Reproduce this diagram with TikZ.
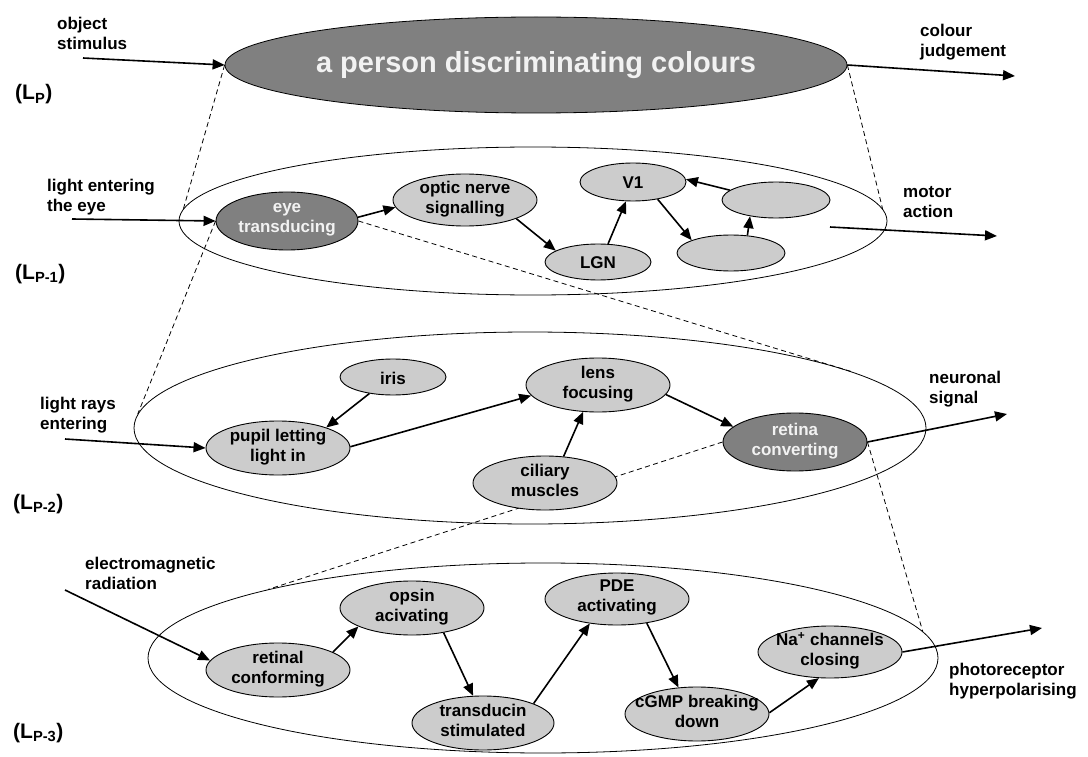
\documentclass[tikz,border=0pt]{standalone}
\usepackage{fontspec}
\setmainfont{Liberation Sans}
\usetikzlibrary{shapes.geometric,arrows.meta,backgrounds}
\definecolor{darkfill}{RGB}{128,128,128}
\definecolor{lightfill}{RGB}{204,204,204}
\definecolor{darktext}{RGB}{242,242,242}
\begin{document}
\begin{tikzpicture}[x=1pt,y=-1pt,
  every node/.style={font=\fontsize{17}{20}\selectfont\bfseries},
  proc/.style={ellipse,draw=black,line width=0.9pt,fill=lightfill,align=center,inner xsep=-16pt,inner ysep=-2pt,
    execute at begin node=\rule{0pt}{20pt}, execute at end node=\strut},
  dproc/.style={proc,fill=darkfill,text=darktext},
  level/.style={ellipse,draw=black,line width=0.8pt,inner xsep=-10pt,inner ysep=0pt},
  flow/.style={-{Triangle[length=12pt,width=10pt]},line width=1.6pt},
  zoomline/.style={line width=0.8pt,dash pattern=on 5pt off 3.5pt},
  lbl/.style={anchor=north west,align=left,inner sep=0pt},
  levlbl/.style={anchor=base west,inner sep=0pt,font=\fontsize{21}{24}\selectfont\bfseries}]
\useasboundingbox (0,0) rectangle (1088,757);

% level ellipses
\node[level,fill=darkfill,text=darktext,minimum width=622pt,minimum height=96pt,font=\fontsize{29}{34}\selectfont\bfseries] (lev1) at (536,65) {a person discriminating colours};
\node[level,minimum width=708pt,minimum height=148pt] (lev2) at (533,221) {};
\node[level,minimum width=792pt,minimum height=192pt] (lev3) at (530,428) {};
\node[level,minimum width=790pt,minimum height=190pt] (lev4) at (543,658) {};

% level P-1 nodes
\node[dproc,minimum width=142pt,minimum height=58pt] (eye) at (287,221) {eye\\transducing};
\node[proc,minimum width=144pt,minimum height=52pt] (optic) at (465,200) {optic nerve\\signalling};
\node[proc,minimum width=106pt,minimum height=36pt] (lgn) at (598,262) {LGN};
\node[proc,minimum width=106pt,minimum height=38pt] (v1) at (633,182) {V1};
\node[proc,minimum width=108pt,minimum height=36pt] (ub) at (776,200) {};
\node[proc,minimum width=108pt,minimum height=36pt] (lb) at (731,253) {};

% level P-2 nodes
\node[proc,minimum width=106pt,minimum height=36pt] (iris) at (393,377) {iris};
\node[proc,minimum width=144pt,minimum height=54pt] (pupil) at (278,448) {pupil letting\\light in};
\node[proc,minimum width=144pt,minimum height=54pt] (lens) at (598,385) {lens\\focusing};
\node[proc,minimum width=144pt,minimum height=54pt] (cil) at (545,483) {ciliary\\muscles};
\node[dproc,minimum width=144pt,minimum height=58pt] (ret) at (795,442) {retina\\converting};

% level P-3 nodes
\node[proc,minimum width=144pt,minimum height=54pt] (rc) at (278,670) {retinal\\conforming};
\node[proc,minimum width=144pt,minimum height=54pt] (ops) at (412,608) {opsin\\acivating};
\node[proc,minimum width=142pt,minimum height=54pt] (tra) at (483,723) {transducin\\stimulated};
\node[proc,minimum width=144pt,minimum height=52pt] (pde) at (617,599) {PDE\\activating};
\node[proc,minimum width=144pt,minimum height=54pt] (cg) at (697,714) {cGMP breaking\\down};
\node[proc,minimum width=144pt,minimum height=52pt] (na) at (830,652) {Na\textsuperscript{+} channels\\closing};

% free ends
\coordinate (inP) at (83,58);
\coordinate (outP) at (1015,76);
\coordinate (inP1) at (72,219);
\coordinate (motS) at (830,227);
\coordinate (motE) at (997,236);
\coordinate (inP2) at (65,439);
\coordinate (outP2) at (1007,414);
\coordinate (inP3) at (65,590);
\coordinate (outP3) at (1042,628);

% dashed zoom lines
\begin{scope}[on background layer]
\draw[zoomline] (lev1.west) -- (lev2.178);
\draw[zoomline] (lev1.east) -- (lev2.2);
\draw[zoomline] (eye.west) -- (lev3.178);
\draw[zoomline] (eye.east) -- (lev3.10);
\draw[zoomline] (ret.west) -- (lev4.166);
\draw[zoomline] (ret.east) -- (lev4.4);
\end{scope}

% arrows
\draw[flow] (inP) -- (lev1.west);
\draw[flow] (lev1.east) -- (outP);
\draw[flow] (inP1) -- (eye.west);
\draw[flow] (eye.3) -- (optic.186);
\draw[flow] (optic.-20) -- (lgn.165);
\draw[flow] (lgn.61) -- (v1.250);
\draw[flow] (v1.-35) -- (lb.162);
\draw[flow] (lb.47) -- (ub.212);
\draw[flow] (ub.168) -- (v1.3);
\draw[flow] (motS) -- (motE);
\draw[flow] (inP2) -- (pupil.west);
\draw[flow] (iris.215) -- (pupil.23);
\draw[flow] (pupil.1) -- (lens.189);
\draw[flow] (cil.55) -- (lens.241);
\draw[flow] (lens.-8) -- (ret.166);
\draw[flow] (ret.east) -- (outP2);
\draw[flow] (inP3) -- (rc.172);
\draw[flow] (rc.18) -- (ops.199);
\draw[flow] (ops.-38) -- (tra.110);
\draw[flow] (tra.21) -- (pde.222);
\draw[flow] (pde.-39) -- (cg.125);
\draw[flow] (cg.1) -- (na.247);
\draw[flow] (na.east) -- (outP3);

% labels
\node[lbl] (tObj) at (57,16.5) {object\\stimulus};
\node[lbl] (tCol) at (920,24) {colour\\judgement};
\node[lbl] (tLight) at (47,178.5) {light entering\\the eye};
\node[lbl] (tMot) at (903,186.5) {motor\\action};
\node[lbl] (tRays) at (40,396.5) {light rays\\entering};
\node[lbl] (tNeu) at (929,371) {neuronal\\signal};
\node[lbl] (tEm) at (85,556.5) {electromagnetic\\radiation};
\node[lbl] (tPh) at (949,662.5) {photoreceptor\\hyperpolarising};

\node[levlbl] (LP) at (15,100) {(L\textsubscript{P})};
\node[levlbl] (LP1) at (15,279) {(L\textsubscript{P-1})};
\node[levlbl] (LP2) at (13,509) {(L\textsubscript{P-2})};
\node[levlbl] (LP3) at (13,738) {(L\textsubscript{P-3})};
\end{tikzpicture}
\end{document}
